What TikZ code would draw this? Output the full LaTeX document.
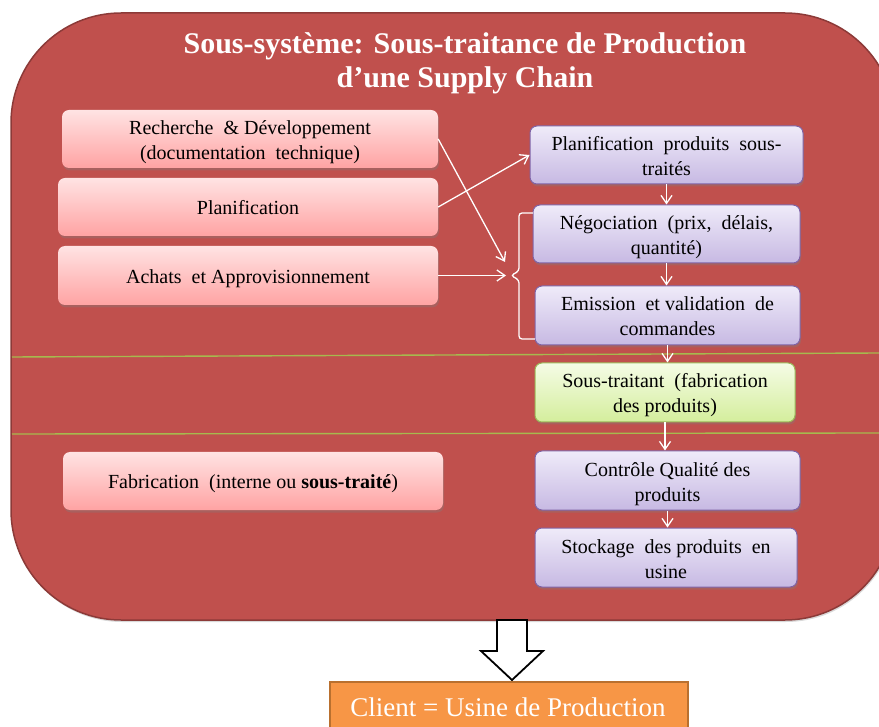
\documentclass[tikz,border=0pt]{standalone}
\usepackage{fontspec}
\setmainfont{Liberation Serif}
\usetikzlibrary{arrows.meta,shadows}
\definecolor{bigred}{HTML}{C0504D}
\definecolor{bigredline}{HTML}{8C3A38}
\definecolor{pinktop}{HTML}{FFE3E3}
\definecolor{pinkbot}{HTML}{FFA3A3}
\definecolor{purtop}{HTML}{EFEBF9}
\definecolor{purbot}{HTML}{C7B9E3}
\definecolor{purline}{HTML}{7F63A6}
\definecolor{grtop}{HTML}{F5FCE6}
\definecolor{grbot}{HTML}{D4EE9C}
\definecolor{grline}{HTML}{9BBB59}
\definecolor{sepline}{HTML}{A6B94E}
\definecolor{orangefill}{HTML}{F79646}
\definecolor{orangeline}{HTML}{B9702F}
\newcommand{\hiStrut}{\rule{0pt}{22pt}}
\newcommand{\loStrut}{\rule[-6pt]{0pt}{6pt}}
\tikzset{
  boxbase/.style={rounded corners=7pt, align=center, text=black, inner sep=0pt,
    font=\fontsize{20}{25}\selectfont,
    drop shadow={opacity=0.35, shadow xshift=1pt, shadow yshift=-2.5pt}},
  pinkbox/.style={boxbase, top color=pinktop, bottom color=pinkbot, draw=none},
  purbox/.style={boxbase, top color=purtop, bottom color=purbot, draw=purline, line width=1pt},
  grbox/.style={boxbase, top color=grtop, bottom color=grbot, draw=grline, line width=1pt},
  arr/.style={draw=white, line width=1.3pt, -{Straight Barb[length=8pt,width=11pt]}},
  sep/.style={draw=sepline, line width=1.4pt},
}
\begin{document}
\begin{tikzpicture}[x=1pt,y=-1pt]
\useasboundingbox (0,0) rectangle (879,727);
\clip (0,0) rectangle (879,727);
% big container
\path[fill=bigred, draw=bigredline, line width=1.5pt, rounded corners=110pt,
  drop shadow={opacity=0.3, shadow xshift=1pt, shadow yshift=-2pt}]
  (11,13) rectangle (895,620);
\node[text=white, font=\fontsize{30}{34}\selectfont\bfseries, align=center] (title)
  at (465,63) {Sous-système: Sous-traitance de Production\\d’une Supply Chain};
% separators
\coordinate (s1a) at (12,357); \coordinate (s1b) at (879,353);
\coordinate (s2a) at (12,434); \coordinate (s2b) at (879,433);
\draw[sep] (s1a) -- (s1b);
\draw[sep] (s2a) -- (s2b);
% left boxes
\node[pinkbox, minimum width=376pt, minimum height=58pt] (rd) at (250,139)
  {\hiStrut Recherche \ \& Développement\\(documentation \ technique)\loStrut};
\node[pinkbox, minimum width=380pt, minimum height=58pt] (plan) at (248,207)
  {\hiStrut Planification\loStrut};
\node[pinkbox, minimum width=380pt, minimum height=59pt] (ach) at (248,275.5)
  {\hiStrut Achats \ et Approvisionnement\loStrut};
\node[pinkbox, minimum width=380pt, minimum height=58pt] (fab) at (253,481)
  {\hiStrut Fabrication \ (interne ou \textbf{sous-traité})\loStrut};
% right boxes
\node[purbox, minimum width=273pt, minimum height=58pt] (p1) at (666.5,155)
  {\hiStrut Planification \ produits \ sous-\\traités\loStrut};
\node[purbox, minimum width=267pt, minimum height=58pt] (p2) at (666.5,234)
  {\hiStrut Négociation \ (prix, \ délais,\\quantité)\loStrut};
\node[purbox, minimum width=265pt, minimum height=59pt] (p3) at (667.5,315.5)
  {\hiStrut Emission \ et validation \ de\\commandes\loStrut};
\node[grbox, minimum width=260pt, minimum height=59pt] (p4) at (665,392.5)
  {\hiStrut Sous-traitant \ (fabrication\\des produits)\loStrut};
\node[purbox, minimum width=265pt, minimum height=59pt] (p5) at (667.5,480.5)
  {\hiStrut Contrôle Qualité des\\produits\loStrut};
\node[purbox, minimum width=262pt, minimum height=59pt] (p6) at (666,557.5)
  {\hiStrut Stockage \ des produits \ en\\usine\loStrut};
% vertical arrows
\draw[arr] (p1.south) -- (p1.south |- p2.north);
\draw[arr] (p2.south) -- (p2.south |- p3.north);
\draw[arr] (p3.south) -- (p3.south |- p4.north);
\draw[arr] (p4.south) -- (p4.south |- p5.north);
\draw[arr] (p5.south) -- (p5.south |- p6.north);
% brace
\coordinate (bt) at (505,262);
\coordinate (bm) at (506,275.5);
\draw[white, line width=1.3pt, rounded corners=3pt]
  (533,213) -- (519,213) -- (519,271) -- (511,275.5) -- (519,280) -- (519,339) -- (535,339);
% left arrows
\draw[arr] (rd.east) -- (bt);
\draw[arr] (plan.east) -- (p1.west);
\draw[arr] (ach.east) -- (bm);
% block arrow
\draw[black, fill=white, line width=1.8pt, line join=miter]
  (497,620) -- (527,620) -- (527,651) -- (543,651) -- (512,680) -- (481,651) -- (497,651) -- cycle;
% client
\path[fill=orangefill, draw=orangeline, line width=1.5pt] (330,682) rectangle (688,740);
\node[text=white, font=\fontsize{27}{30}\selectfont] (client) at (508,707) {Client = Usine de Production};
\end{tikzpicture}
\end{document}
